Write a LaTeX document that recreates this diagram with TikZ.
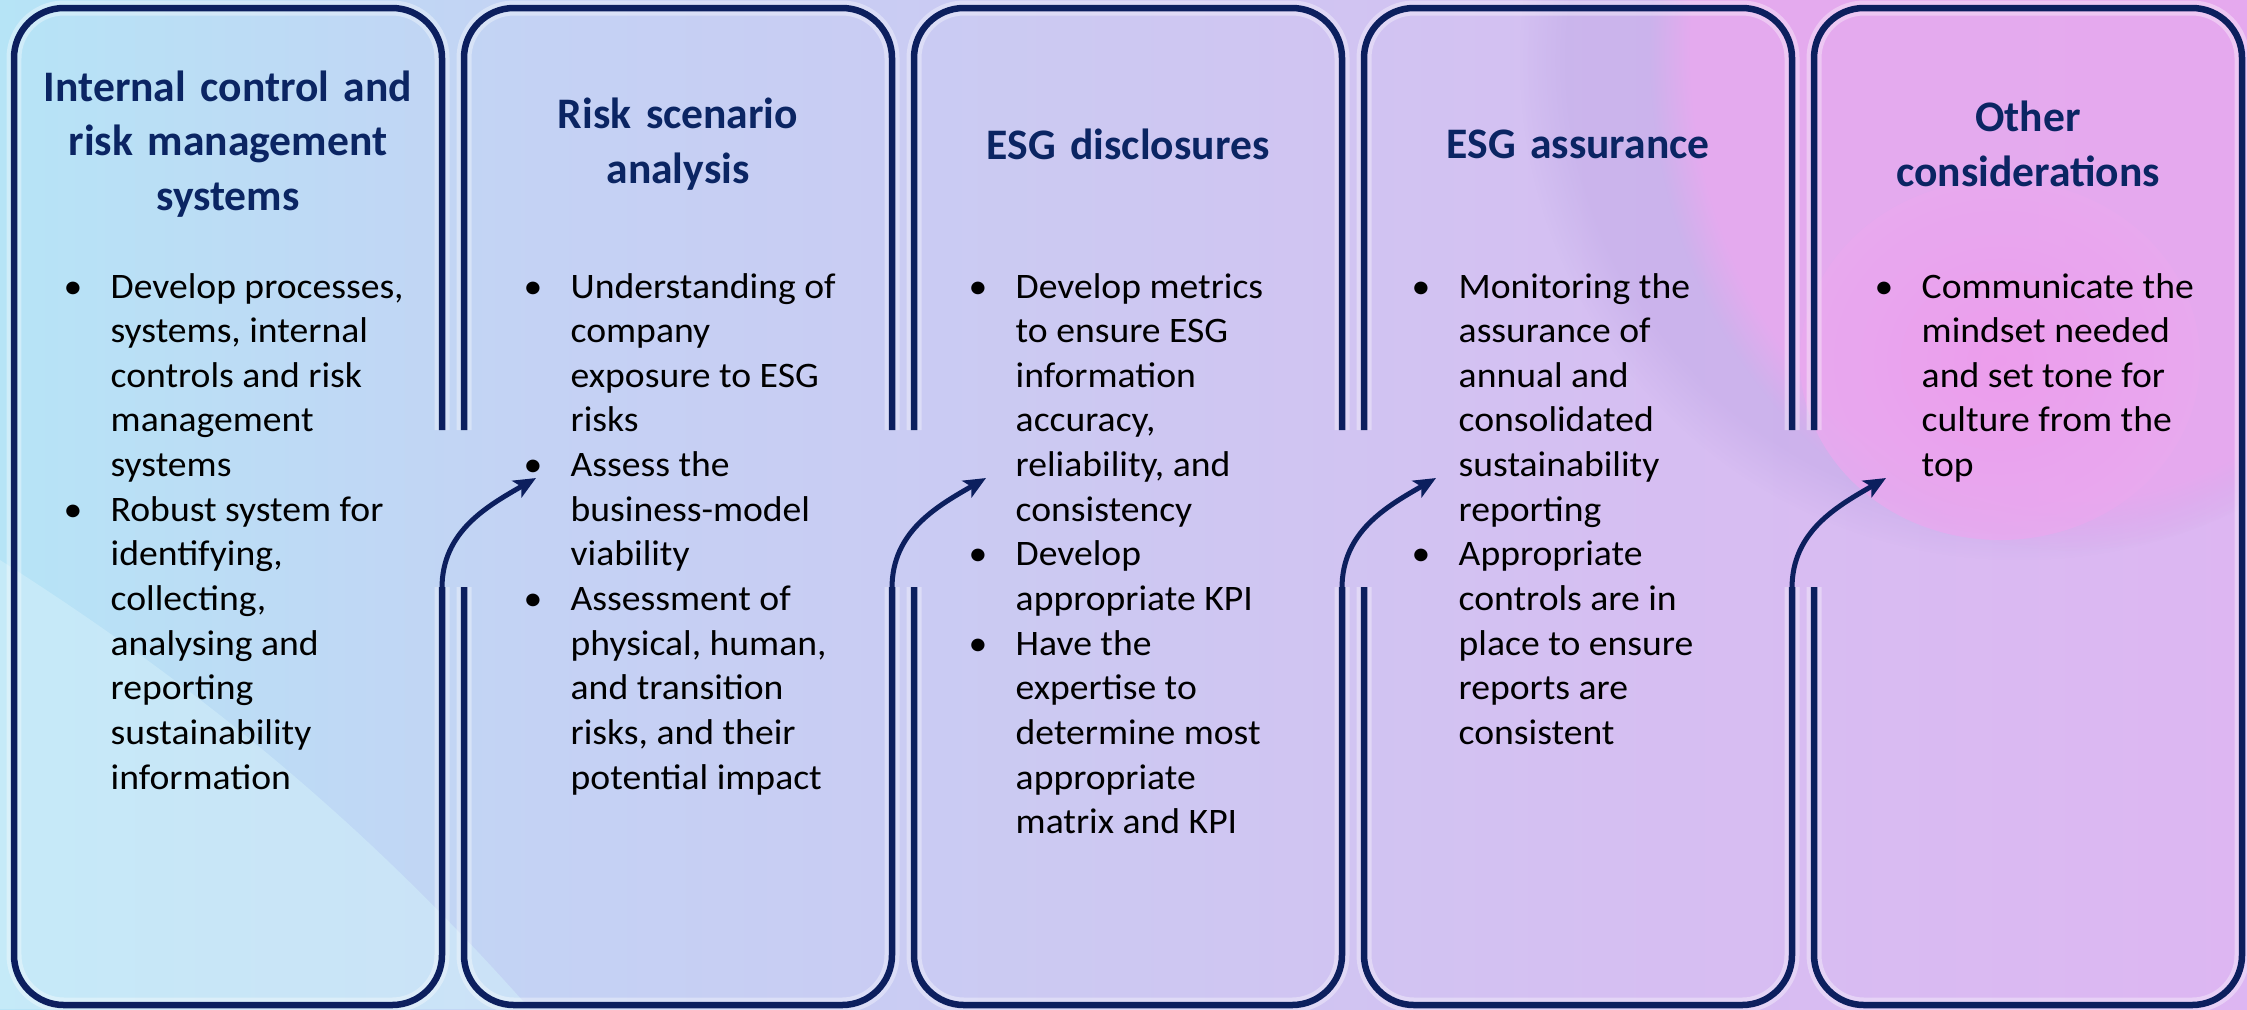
\documentclass[tikz,border=0pt]{standalone}
\usepackage{fontspec}
\setmainfont{Carlito}
\newfontfamily\bodyfont[FakeStretch=1.05]{Carlito}
\usetikzlibrary{arrows.meta, fadings}
\definecolor{esgnavy}{HTML}{0C1F5E}
\definecolor{esgtitle}{HTML}{0B2563}
\definecolor{bgcyan}{HTML}{B6E4F6}
\definecolor{bgsky}{HTML}{C4D2F4}
\definecolor{bglilac}{HTML}{CDC8F2}
\definecolor{bgmauve}{HTML}{D6BEF2}
\definecolor{bgorchid}{HTML}{DDB6F2}
\definecolor{bgviolet}{HTML}{B49CE0}
\definecolor{bgpink}{HTML}{E9A9EF}
\definecolor{bghot}{HTML}{EE9AEC}
% the visible part of a horizontal shading runs from 25bp to 75bp
\pgfdeclarehorizontalshading{esgback}{100bp}{color(0bp)=(bgcyan); color(25bp)=(bgcyan); color(37bp)=(bgsky);
    color(50bp)=(bglilac); color(62bp)=(bgmauve); color(75bp)=(bgorchid); color(100bp)=(bgorchid)}
\newcommand{\dotitem}{\llap{\makebox[0.47cm][l]{\textbullet}}}

\begin{document}
\begin{tikzpicture}[
        frame/.style={draw=esgnavy, line width=0.065cm, rounded corners=0.5cm,
            preaction={draw=white, opacity=0.35, line width=0.15cm}},
        head/.style={text width=4.1cm, align=center, text=esgtitle, font=\bfseries\fontsize{12.4}{15.6}\selectfont},
        body/.style={anchor=base west, inner sep=0pt, font=\bodyfont\fontsize{10.2}{12.7}\selectfont},
        flow/.style={-{Stealth[length=0.22cm, width=0.19cm, inset=0.05cm]}, draw=esgnavy, line width=0.05cm}
    ]
    \useasboundingbox (0,0) rectangle (22.47,-10.09);

    % Background
    \shade[shading=esgback] (0,0) rectangle (22.47,-10.09);
    \begin{scope}
        \clip (0,0) rectangle (22.47,-10.09);
        \fill[bgcyan!60!white, opacity=0.55] (0,-5.6) .. controls (2.2,-7) and (3.8,-8.4) .. (5.3,-10.09) -- (0,-10.09) -- cycle;
        \fill[bgviolet, opacity=0.3, path fading=circle with fuzzy edge 10 percent] (20.2,-0.6) circle (5.0cm);
        \fill[bgpink, opacity=0.85, path fading=circle with fuzzy edge 10 percent] (20.7,-0.5) ellipse (4.2cm and 5.0cm);
        \shade[inner color=bghot, outer color=bgpink, opacity=0.8] (20.0,-3.6) ellipse (2.0cm and 1.8cm);
    \end{scope}

    % Panel frames, open where the arrows pass
    \draw[frame] (4.42,-4.30) |- (0.14,-0.08) |- (4.42,-10.05) -- (4.42,-5.87);
    \foreach \i in {1,2,3} {
        \pgfmathsetmacro{\xl}{0.14+4.5*\i}
        \pgfmathsetmacro{\xr}{\xl+4.28}
        \draw[frame] (\xl,-4.30) |- (\xr,-0.08) -- (\xr,-4.30);
        \draw[frame] (\xl,-5.87) |- (\xr,-10.05) -- (\xr,-5.87);
    }
    \draw[frame] (18.14,-4.30) |- (22.42,-0.08) |- (18.14,-10.05) -- (18.14,-5.87);

    % Arrows from one panel into the next
    \foreach \i in {0,...,3} {
        \pgfmathsetmacro{\xr}{4.42+4.5*\i}
        \coordinate (s\i) at (\xr,-5.88);
        \coordinate (e\i) at (\xr+0.94,-4.78);
        \draw[flow] (s\i) to[out=90, in=210] (e\i);
    }

    % Titles
    \node[head] (t1) at (2.28,-1.44) {Internal control and\\ risk management\\ systems};
    \node[head] (t2) at (6.78,-1.44) {Risk scenario\\ analysis};
    \node[head] (t3) at (11.28,-1.44) {ESG disclosures};
    \node[head] (t4) at (15.78,-1.44) {ESG assurance};
    \node[head] (t5) at (20.28,-1.44) {Other\\ considerations};

    % Bullet texts
    \node[body] (b1) at (1.10,-2.98) {\begin{tabular}[t]{@{}l@{}}
        \dotitem Develop processes,\\ systems, internal\\ controls and risk\\ management\\ systems\\
        \dotitem Robust system for\\ identifying,\\ collecting,\\ analysing and\\ reporting\\ sustainability\\ information
    \end{tabular}};
    \node[body] (b2) at (5.70,-2.98) {\begin{tabular}[t]{@{}l@{}}
        \dotitem Understanding of\\ company\\ exposure to ESG\\ risks\\
        \dotitem Assess the\\ business-model\\ viability\\
        \dotitem Assessment of\\ physical, human,\\ and transition\\ risks, and their\\ potential impact
    \end{tabular}};
    \node[body] (b3) at (10.15,-2.98) {\begin{tabular}[t]{@{}l@{}}
        \dotitem Develop metrics\\ to ensure ESG\\ information\\ accuracy,\\ reliability, and\\ consistency\\
        \dotitem Develop\\ appropriate KPI\\
        \dotitem Have the\\ expertise to\\ determine most\\ appropriate\\ matrix and KPI
    \end{tabular}};
    \node[body] (b4) at (14.58,-2.98) {\begin{tabular}[t]{@{}l@{}}
        \dotitem Monitoring the\\ assurance of\\ annual and\\ consolidated\\ sustainability\\ reporting\\
        \dotitem Appropriate\\ controls are in\\ place to ensure\\ reports are\\ consistent
    \end{tabular}};
    \node[body] (b5) at (19.21,-2.98) {\begin{tabular}[t]{@{}l@{}}
        \dotitem Communicate the\\ mindset needed\\ and set tone for\\ culture from the\\ top
    \end{tabular}};
\end{tikzpicture}
\end{document}
